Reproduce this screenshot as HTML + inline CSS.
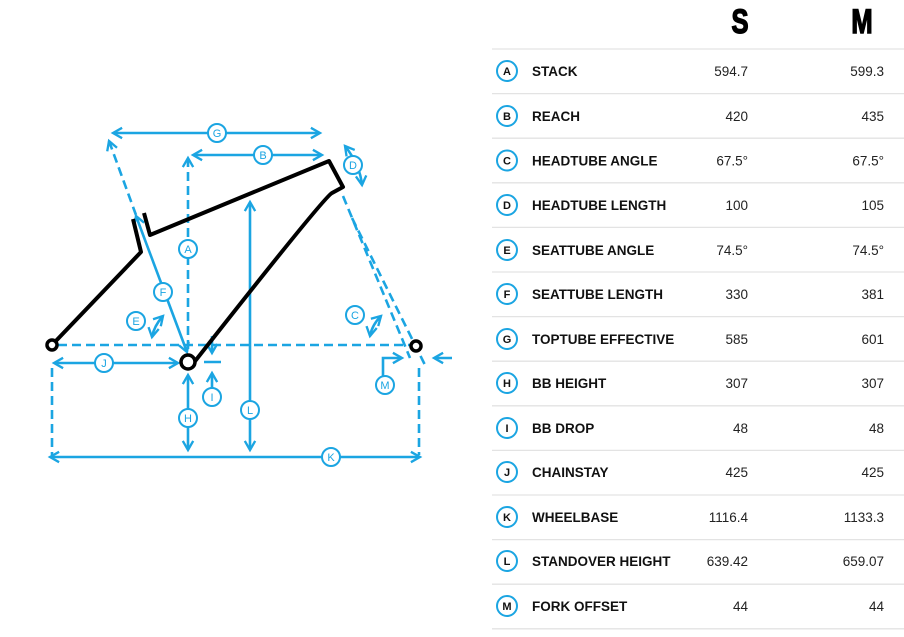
<!DOCTYPE html>
<html><head><meta charset="utf-8"><style>
body{margin:0;width:904px;height:637px;background:#fff;overflow:hidden;font-family:"Liberation Sans",sans-serif;}
svg{position:absolute;left:0;top:0}
</style></head><body>
<svg width="904" height="637" viewBox="0 0 904 637">
<defs>
<marker id="ar" viewBox="0 0 10 10" refX="8" refY="5" markerWidth="5" markerHeight="5" orient="auto-start-reverse"><path d="M1,1 L8,5 L1,9" fill="none" stroke="#1ba5e2" stroke-width="1.8"/></marker>
</defs>
<g stroke="#1ba5e2" stroke-width="2.6" fill="none">
<g stroke-dasharray="9,5">
<line x1="58" y1="345" x2="410" y2="345"/>
<line x1="109" y1="141" x2="136" y2="215" marker-start="url(#ar)"/>
<line x1="188" y1="158" x2="188" y2="352" marker-start="url(#ar)"/>
<line x1="343" y1="196" x2="410" y2="358"/>
<line x1="352" y1="218" x2="426" y2="367"/>
<line x1="52" y1="368" x2="52" y2="455"/>
<line x1="419" y1="368" x2="419" y2="455"/>
</g>
<line x1="136" y1="216" x2="187" y2="352" marker-start="url(#ar)" marker-end="url(#ar)"/>
<line x1="193" y1="155" x2="322" y2="155" marker-start="url(#ar)" marker-end="url(#ar)"/>
<line x1="113" y1="133" x2="320" y2="133" marker-start="url(#ar)" marker-end="url(#ar)"/>
<line x1="250" y1="202" x2="250" y2="450" marker-start="url(#ar)" marker-end="url(#ar)"/>
<line x1="188" y1="375" x2="188" y2="450" marker-start="url(#ar)" marker-end="url(#ar)"/>
<line x1="54" y1="363" x2="178" y2="363" marker-start="url(#ar)" marker-end="url(#ar)"/>
<line x1="50" y1="457" x2="420" y2="457" marker-start="url(#ar)" marker-end="url(#ar)"/>
<line x1="212" y1="390" x2="212" y2="373" marker-end="url(#ar)"/>
<line x1="212" y1="336" x2="212" y2="353" marker-end="url(#ar)"/>
<line x1="204" y1="362" x2="221" y2="362"/>
<path d="M383,378 L383,358 L402,358" marker-end="url(#ar)"/>
<line x1="452" y1="358" x2="434" y2="358" marker-end="url(#ar)"/>
<path d="M345,146 Q360,165 362,185" marker-start="url(#ar)" marker-end="url(#ar)"/>
<path d="M370,336 Q372,325 381,316" marker-start="url(#ar)" marker-end="url(#ar)"/>
<path d="M152,337 Q154,326 163,316" marker-start="url(#ar)" marker-end="url(#ar)"/>
</g>
<path d="M52,345 L141,252 L133,219 M144,213 L150,235 L329,161 L343,187 L332,193 Q324,197 192,365" stroke="#000" stroke-width="4" fill="none" stroke-linejoin="round"/>
<circle cx="52" cy="345" r="5" fill="#fff" stroke="#000" stroke-width="3.5"/>
<circle cx="188" cy="362" r="7" fill="#fff" stroke="#000" stroke-width="3.5"/>
<circle cx="416" cy="346" r="5" fill="#fff" stroke="#000" stroke-width="3.5"/>
<g font-family="Liberation Sans" font-size="11" fill="#1ba5e2" text-anchor="middle">
<g stroke="#1ba5e2" stroke-width="2" fill="#fff">
<circle cx="217" cy="133" r="9"/><circle cx="263" cy="155" r="9"/><circle cx="353" cy="165" r="9"/>
<circle cx="188" cy="249" r="9"/><circle cx="163" cy="292" r="9"/><circle cx="136" cy="321" r="9"/>
<circle cx="355" cy="315" r="9"/><circle cx="104" cy="363" r="9"/><circle cx="212" cy="397" r="9"/>
<circle cx="188" cy="418" r="9"/><circle cx="250" cy="410" r="9"/><circle cx="385" cy="385" r="9"/>
<circle cx="331" cy="457" r="9"/>
</g>
<text x="217" y="137">G</text><text x="263" y="159">B</text><text x="353" y="169">D</text>
<text x="188" y="253">A</text><text x="163" y="296">F</text><text x="136" y="325">E</text>
<text x="355" y="319">C</text><text x="104" y="367">J</text><text x="212" y="401">I</text>
<text x="188" y="422">H</text><text x="250" y="414">L</text><text x="385" y="389">M</text>
<text x="331" y="461">K</text>
</g>
<text x="740" y="33" font-family="Liberation Sans" font-weight="bold" font-size="34" stroke="#000" stroke-width="1.5" text-anchor="middle" transform="translate(740 0) scale(0.75 1) translate(-740 0)">S</text>
<text x="862" y="33" font-family="Liberation Sans" font-weight="bold" font-size="34" stroke="#000" stroke-width="1.5" text-anchor="middle" transform="translate(862 0) scale(0.75 1) translate(-862 0)">M</text>
<g stroke="#e3e3e3" stroke-width="1.3">
<line x1="492" y1="49" x2="904" y2="49"/><line x1="492" y1="93.6" x2="904" y2="93.6"/><line x1="492" y1="138.2" x2="904" y2="138.2"/>
<line x1="492" y1="182.8" x2="904" y2="182.8"/><line x1="492" y1="227.4" x2="904" y2="227.4"/><line x1="492" y1="272" x2="904" y2="272"/>
<line x1="492" y1="316.6" x2="904" y2="316.6"/><line x1="492" y1="361.2" x2="904" y2="361.2"/><line x1="492" y1="405.8" x2="904" y2="405.8"/>
<line x1="492" y1="450.4" x2="904" y2="450.4"/><line x1="492" y1="495" x2="904" y2="495"/><line x1="492" y1="539.6" x2="904" y2="539.6"/>
<line x1="492" y1="584.2" x2="904" y2="584.2"/><line x1="492" y1="628.8" x2="904" y2="628.8"/>
</g>
<g stroke="#1ba5e2" stroke-width="2" fill="none">
<circle cx="507" cy="71" r="10"/><circle cx="507" cy="116" r="10"/><circle cx="507" cy="160.5" r="10"/><circle cx="507" cy="205" r="10"/>
<circle cx="507" cy="250" r="10"/><circle cx="507" cy="294" r="10"/><circle cx="507" cy="339" r="10"/><circle cx="507" cy="383" r="10"/>
<circle cx="507" cy="428" r="10"/><circle cx="507" cy="472" r="10"/><circle cx="507" cy="517" r="10"/><circle cx="507" cy="561" r="10"/>
<circle cx="507" cy="606" r="10"/>
</g>
<g font-size="11" font-weight="bold" text-anchor="middle" fill="#111">
<text x="507" y="75">A</text><text x="507" y="120">B</text><text x="507" y="164.5">C</text><text x="507" y="209">D</text>
<text x="507" y="254">E</text><text x="507" y="298">F</text><text x="507" y="343">G</text><text x="507" y="387">H</text>
<text x="507" y="432">I</text><text x="507" y="476">J</text><text x="507" y="521">K</text><text x="507" y="565">L</text><text x="507" y="610">M</text>
</g>
<g font-size="13.5" font-weight="bold" fill="#111">
<text x="532" y="76">STACK</text><text x="532" y="121">REACH</text><text x="532" y="165.5">HEADTUBE ANGLE</text><text x="532" y="210">HEADTUBE LENGTH</text>
<text x="532" y="255">SEATTUBE ANGLE</text><text x="532" y="299">SEATTUBE LENGTH</text><text x="532" y="344">TOPTUBE EFFECTIVE</text><text x="532" y="388">BB HEIGHT</text>
<text x="532" y="433">BB DROP</text><text x="532" y="477">CHAINSTAY</text><text x="532" y="522">WHEELBASE</text><text x="532" y="566">STANDOVER HEIGHT</text><text x="532" y="611">FORK OFFSET</text>
</g>
<g font-size="13.5" fill="#222" text-anchor="end">
<text x="748" y="76">594.7</text><text x="748" y="121">420</text><text x="748" y="165.5">67.5°</text><text x="748" y="210">100</text>
<text x="748" y="255">74.5°</text><text x="748" y="299">330</text><text x="748" y="344">585</text><text x="748" y="388">307</text>
<text x="748" y="433">48</text><text x="748" y="477">425</text><text x="748" y="522">1116.4</text><text x="748" y="566">639.42</text><text x="748" y="611">44</text>
<text x="884" y="76">599.3</text><text x="884" y="121">435</text><text x="884" y="165.5">67.5°</text><text x="884" y="210">105</text>
<text x="884" y="255">74.5°</text><text x="884" y="299">381</text><text x="884" y="344">601</text><text x="884" y="388">307</text>
<text x="884" y="433">48</text><text x="884" y="477">425</text><text x="884" y="522">1133.3</text><text x="884" y="566">659.07</text><text x="884" y="611">44</text>
</g>
</svg>
</body></html>
